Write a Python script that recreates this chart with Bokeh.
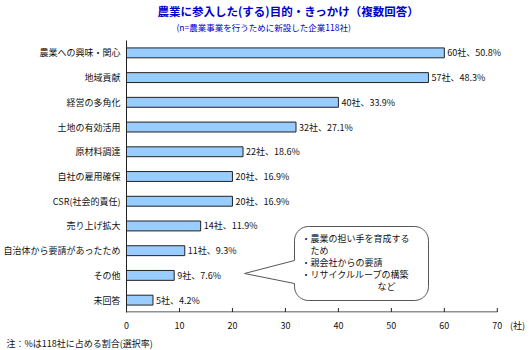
import numpy as np
from bokeh.plotting import figure
from bokeh.models import Range1d, FixedTicker, Label, ColumnDataSource, Title
from bokeh.core.properties import value
from bokeh.embed import file_html
from bokeh.resources import INLINE

categories = ["農業への興味・関心", "地域貢献", "経営の多角化", "土地の有効活用", "原材料調達",
              "自社の雇用確保", "CSR(社会的責任)", "売り上げ拡大", "自治体から要請があったため",
              "その他", "未回答"]
counts = [60, 57, 40, 32, 22, 20, 20, 14, 11, 9, 5]
percents = [50.8, 48.3, 33.9, 27.1, 18.6, 16.9, 16.9, 11.9, 9.3, 7.6, 4.2]
x_ticks = [0, 10, 20, 30, 40, 50, 60, 70]
x_unit = "(社)"
callout_lines = ["・農業の担い手を育成する", "　ため", "・親会社からの要請", "・リサイクルループの構築"]
callout_last = "など"
title_text = "農業に参入した(する)目的・きっかけ（複数回答）"
subtitle_text = "(n=農業事業を行うために新設した企業118社)"
note_text = "注：%は118社に占める割合(選択率)"

FONT = "Noto Sans CJK JP"
W, H = 530, 350
PXU = 5.3                      # pixels per company on x
XAX = 70                       # axis end
XMAX = 74                      # frame end (room for unit label)
L, T, B = 125, 40, 38
FW = int(round(XMAX * PXU))
R = W - L - FW
FH = H - T - B
YMAX = len(categories)

def px2x(px):
    return (px - L) / FW * XMAX

def py2y(py):
    return (T + FH - py) / FH * YMAX

pos = [YMAX - 0.5 - i for i in range(len(categories))]
labels = [f"{c}社、{p}%" for c, p in zip(counts, percents)]
src = ColumnDataSource(dict(y=pos, v=counts, lab=labels))

p = figure(width=W, height=H, frame_width=FW, frame_height=FH,
           x_range=Range1d(0, XMAX), y_range=Range1d(0, YMAX),
           output_backend="svg", toolbar_location=None,
           min_border_left=L, min_border_right=R, min_border_top=T, min_border_bottom=B)
p.outline_line_color = None
p.xgrid.grid_line_color = None
p.ygrid.grid_line_color = None
p.background_fill_color = "white"
p.border_fill_color = "white"

p.hbar(y="y", right="v", left=0, height=0.4, source=src,
       fill_color="#99CCFF", line_color="#222222", line_width=1)
p.text(x="v", y="y", text="lab", source=src, x_offset=3,
       text_font=value(FONT), text_font_size="9px", text_baseline="middle",
       text_align="left", text_color="#111111")

# x axis: labels from the axis, line and inward ticks drawn in the frame
unit_pos = 73.8
xa = p.xaxis[0]
xa.ticker = FixedTicker(ticks=x_ticks + [unit_pos])
xa.major_label_overrides = {unit_pos: x_unit}
xa.major_tick_in = 0
xa.major_tick_out = 0
xa.major_tick_line_color = None
xa.axis_line_color = None
xa.minor_tick_line_color = None
xa.major_label_standoff = 6
xa.major_label_text_font = FONT
xa.major_label_text_font_size = "9px"
xa.major_label_text_color = "#111111"

y_base = py2y(T + FH - 0.5)
p.segment(x0=[0], y0=[y_base], x1=[XAX], y1=[y_base], line_color="#222222", line_width=1)
p.segment(x0=x_ticks, y0=[y_base] * len(x_ticks), x1=x_ticks,
          y1=[py2y(T + FH - 4.5)] * len(x_ticks), line_color="#222222", line_width=1)

ya = p.yaxis[0]
ya.ticker = FixedTicker(ticks=pos)
ya.major_label_overrides = {pp: c for pp, c in zip(pos, categories)}
ya.major_tick_in = 0
ya.major_tick_out = 0
ya.minor_tick_line_color = None
ya.major_label_standoff = 6
ya.major_label_text_font = FONT
ya.major_label_text_font_size = "9px"
ya.major_label_text_color = "#111111"
ya.axis_line_color = "#222222"

# callout bubble (rounded rect with tail), defined in pixels then converted
bl, br, bt, bb, rad = 293, 427, 226, 300, 14
tail_top, tail_bot, tip = 260, 283, (243, 273)
def arc(cx, cy, a0, a1, n=10):
    a = np.linspace(a0, a1, n)
    return list(cx + rad * np.cos(a)), list(cy - rad * np.sin(a))
xs, ys = [], []
for (cx, cy, a0, a1) in [(bl + rad, bt + rad, np.pi, np.pi / 2),
                         (br - rad, bt + rad, np.pi / 2, 0),
                         (br - rad, bb - rad, 0, -np.pi / 2),
                         (bl + rad, bb - rad, -np.pi / 2, -np.pi)]:
    ax_, ay_ = arc(cx, cy, a0, a1)
    xs += ax_
    ys += ay_
xs += [bl, tip[0], bl]
ys += [tail_bot, tip[1], tail_top]
p.patch([px2x(v) for v in xs], [py2y(v) for v in ys],
        fill_color="white", line_color="#555555", line_width=1)

for i, t in enumerate(callout_lines):
    p.add_layout(Label(x=px2x(300), y=py2y(238 + 12 * i), text=t,
                       text_font=FONT, text_font_size="9px", text_baseline="middle",
                       text_color="#111111"))
p.add_layout(Label(x=px2x(376), y=py2y(286), text=callout_last,
                   text_font=FONT, text_font_size="9px", text_baseline="middle",
                   text_color="#111111"))

# titles and notes (as title panels so they are not clipped)
p.add_layout(Title(text=" ", align="left", standoff=5,
                   text_font=FONT, text_font_size="1px", text_font_style="normal"), "above")
p.add_layout(Title(text=subtitle_text, align="left", offset=50, standoff=0,
                   text_font=FONT, text_font_size="8.5px", text_font_style="normal",
                   text_color="#0000CC"), "above")
p.add_layout(Title(text=title_text, align="left", offset=31, standoff=0,
                   text_font=FONT, text_font_size="11.5px", text_font_style="bold",
                   text_color="#0000CC"), "above")
p.add_layout(Title(text=note_text, align="left", offset=-120, standoff=0,
                   text_font=FONT, text_font_size="9px", text_font_style="normal",
                   text_color="#111111"), "below")

open("out.html", "w").write(file_html(p, INLINE))
